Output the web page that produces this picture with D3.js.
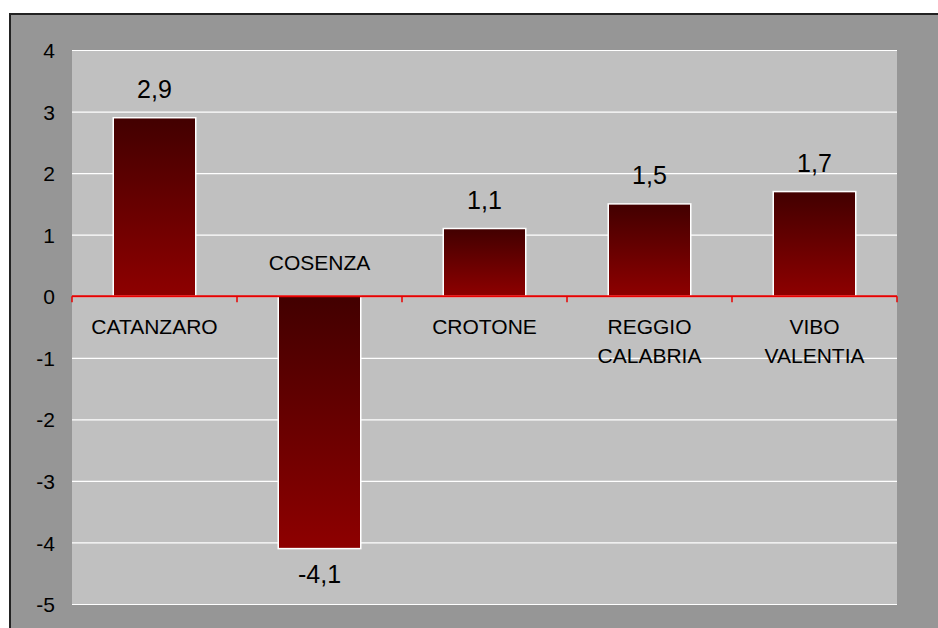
<html lang="it">
<head>
  <meta charset="UTF-8">
  <title>Province Calabria</title>
  <script src="https://d3js.org/d3.v7.min.js"></script>
</head>
<style>
  body { margin: 0; background: #ffffff; }
  text { font-family: "Liberation Sans", Arial, sans-serif; fill: #000; }
  .gridlines line { stroke: #ffffff; stroke-width: 1.2; }
  .gridlines .domain { stroke: none; }
  .y.axis .domain, .y.axis line { stroke: none; }
</style>
<body>
  <svg class="graph" width="938" height="628"></svg>
  <script>
    // data
    const categories = ["CATANZARO", "COSENZA", "CROTONE", "REGGIO CALABRIA", "VIBO VALENTIA"];
    const catLines = [["CATANZARO"], ["COSENZA"], ["CROTONE"], ["REGGIO", "CALABRIA"], ["VIBO", "VALENTIA"]];
    const values = [2.9, -4.1, 1.1, 1.5, 1.7];
    const yTicks = [-5, -4, -3, -2, -1, 0, 1, 2, 3, 4];

    const svg = d3.select('svg.graph');
    const margins = { top: 50, left: 72, right: 41, bottom: 24 };
    const chartWidth = 938 - margins.left - margins.right;
    const chartHeight = 628 - margins.top - margins.bottom;

    // outer frame
    svg.append('rect')
      .attr('x', 10).attr('y', 14)
      .attr('width', 940).attr('height', 630)
      .attr('fill', '#969696')
      .attr('stroke', '#222').attr('stroke-width', 2);

    const xScale = d3.scaleBand().domain(categories).range([0, chartWidth]).paddingInner(0.5).paddingOuter(0.25);
    const yScale = d3.scaleLinear().domain([-5, 4]).range([chartHeight, 0]);

    const chartArea = svg.append('g')
      .attr('transform', `translate(${margins.left},${margins.top})`);

    chartArea.append('rect')
      .attr('width', chartWidth).attr('height', chartHeight)
      .attr('fill', '#c0c0c0');

    // gridlines
    chartArea.append('g')
      .attr('class', 'gridlines')
      .call(d3.axisLeft(yScale).tickValues(yTicks).tickSize(-chartWidth).tickFormat(''));

    // y axis labels (plain hyphen for negatives)
    svg.append('g')
      .attr('class', 'y axis')
      .attr('transform', `translate(${margins.left - 17},${margins.top})`)
      .call(d3.axisLeft(yScale).tickValues(yTicks).tickSize(0).tickPadding(0).tickFormat(d => String(d)))
      .selectAll('text')
      .style('font-size', '21px')
      .attr('dy', '0.36em');

    // gradient
    const grad = svg.append('defs').append('linearGradient')
      .attr('id', 'barGrad').attr('x1', 0).attr('y1', 0).attr('x2', 0).attr('y2', 1);
    grad.append('stop').attr('offset', '0%').attr('stop-color', '#420000');
    grad.append('stop').attr('offset', '100%').attr('stop-color', '#8e0000');

    const data = categories.map((c, i) => ({ cat: c, value: values[i], lines: catLines[i] }));

    chartArea.selectAll('rect.bar')
      .data(data)
      .join('rect')
      .attr('class', 'bar')
      .attr('x', d => xScale(d.cat))
      .attr('width', xScale.bandwidth())
      .attr('y', d => yScale(Math.max(0, d.value)))
      .attr('height', d => Math.abs(yScale(d.value) - yScale(0)))
      .attr('fill', 'url(#barGrad)')
      .attr('stroke', '#ffffff')
      .attr('stroke-width', 1.5);

    // zero axis in red with ticks at band edges
    const x0 = yScale(0);
    chartArea.append('line')
      .attr('x1', 0).attr('x2', chartWidth)
      .attr('y1', x0).attr('y2', x0)
      .attr('stroke', '#e80000').attr('stroke-width', 2);
    const step = chartWidth / categories.length;
    d3.range(categories.length + 1).forEach(i => {
      chartArea.append('line')
        .attr('x1', i * step).attr('x2', i * step)
        .attr('y1', x0).attr('y2', x0 + 6)
        .attr('stroke', '#e80000').attr('stroke-width', 1.5);
    });

    // value labels
    chartArea.selectAll('text.val')
      .data(data)
      .join('text')
      .attr('class', 'val')
      .attr('x', d => xScale(d.cat) + xScale.bandwidth() / 2)
      .attr('y', d => d.value >= 0 ? yScale(d.value) - 20 : yScale(d.value) + 34)
      .attr('text-anchor', 'middle')
      .style('font-size', '25px')
      .text(d => String(d.value).replace('.', ','));

    // category labels
    const catText = chartArea.selectAll('text.cat')
      .data(data)
      .join('text')
      .attr('class', 'cat')
      .attr('x', d => xScale(d.cat) + xScale.bandwidth() / 2)
      .attr('y', d => d.value >= 0 ? x0 + 38 : x0 - 26)
      .attr('text-anchor', 'middle')
      .style('font-size', '21px');
    catText.selectAll('tspan')
      .data(d => d.lines.map((l, j) => ({ l, j, x: xScale(d.cat) + xScale.bandwidth() / 2 })))
      .join('tspan')
      .attr('x', t => t.x)
      .attr('dy', t => t.j === 0 ? 0 : 29)
      .text(t => t.l);
  </script>
</body>
</html>
